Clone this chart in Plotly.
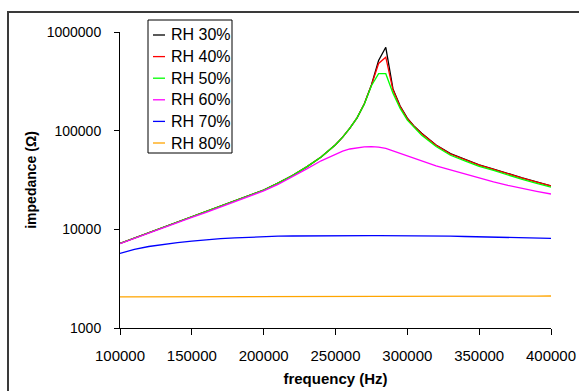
import plotly.graph_objects as go

# Frequency sweep (Hz)
freq = [100000, 110000, 120000, 130000, 140000, 150000, 160000, 170000, 180000, 190000,
        200000, 210000, 220000, 230000, 240000, 250000,
        255000, 260000, 265000, 270000, 275000, 280000, 285000, 290000, 295000, 300000,
        305000, 310000,
        320000, 330000, 340000, 350000, 360000, 370000, 380000, 390000, 400000]

# Impedance magnitude (ohm) at each relative humidity
rh30 = [7200, 8150, 9250, 10400, 11800, 13300, 15000, 17000, 19300, 22000,
        25000, 29500, 35000, 43000, 54000, 72000,
        86000, 106000, 135000, 186000, 290000, 515000, 700000, 265000, 178000, 134000,
        110000, 94000,
        71500, 58500, 51300, 45000, 40800, 36700, 33200, 30300, 27600]
rh40 = [7200, 8150, 9250, 10400, 11800, 13300, 15000, 17000, 19300, 22000,
        25000, 29500, 35000, 43000, 54000, 72000,
        86000, 106000, 135000, 186000, 288000, 480000, 555000, 258000, 175000, 132000,
        109000, 93000,
        71000, 58000, 51000, 44800, 40600, 36500, 33000, 30100, 27500]
rh50 = [7200, 8150, 9250, 10400, 11800, 13300, 15000, 17000, 19300, 22000,
        25000, 29500, 35000, 43000, 54000, 72000,
        86000, 106000, 135000, 185000, 285000, 378000, 378000, 240000, 168000, 128000,
        106000, 90000,
        69000, 56300, 49500, 43500, 39500, 35500, 32000, 29300, 26800]
rh60 = [7150, 8100, 9200, 10350, 11700, 13200, 14850, 16800, 19000, 21600,
        24500, 28500, 34000, 41000, 49500, 58000,
        62000, 65200, 67200, 68400, 68800, 68000, 66000, 62500, 59000, 55800,
        52600, 49500,
        44000, 40000, 36300, 33000, 30200, 27900, 25900, 24300, 22800]
rh70 = [5700, 6250, 6700, 7050, 7350, 7600, 7850, 8050, 8200, 8350,
        8450, 8520, 8560, 8600, 8620, 8640,
        8640, 8650, 8650, 8650, 8650, 8640, 8640, 8630, 8620, 8610,
        8600, 8590,
        8560, 8520, 8460, 8400, 8340, 8280, 8220, 8160, 8100]
rh80 = [2070, 2070, 2070, 2072, 2072, 2074, 2075, 2075, 2076, 2078,
        2078, 2080, 2080, 2082, 2083, 2085,
        2086, 2087, 2088, 2089, 2090, 2090, 2091, 2092, 2093, 2094,
        2095, 2096,
        2098, 2100, 2102, 2104, 2105, 2106, 2107, 2108, 2110]

names = ["RH 30%", "RH 40%", "RH 50%", "RH 60%", "RH 70%", "RH 80%"]
series = [rh30, rh40, rh50, rh60, rh70, rh80]
colors = ["#000000", "#FF0000", "#00FF00", "#FF00FF", "#0000FF", "#FFA500"]

y_ticks = [1000, 10000, 100000, 1000000]
x_ticks = [100000, 150000, 200000, 250000, 300000, 350000, 400000]

W, H = 579, 391
ML, MR, MT, MB = 120, 28, 32, 63
PW, PH = W - ML - MR, H - MT - MB


def px(x):
    return (x - ML) / PW


def py(y):
    return (H - MB - y) / PH


fig = go.Figure()
for name, vals, col in zip(names, series, colors):
    fig.add_trace(go.Scatter(x=freq, y=vals, name=name, mode="lines",
                             line=dict(color=col, width=1.3), showlegend=False))

font_family = "Liberation Sans, Arial, sans-serif"

fig.update_layout(
    width=W, height=H,
    margin=dict(l=ML, r=MR, t=MT, b=MB, autoexpand=False),
    paper_bgcolor="white", plot_bgcolor="white",
    font=dict(family=font_family, color="black"),
    xaxis=dict(
        range=[100000, 400000], tickvals=x_ticks, ticktext=[str(v) for v in x_ticks],
        showgrid=False, zeroline=False, showline=True, linecolor="black", linewidth=1,
        ticks="outside", ticklen=6, tickcolor="black", tickfont=dict(size=15),
        ticklabelstandoff=8, automargin=False,
        title=dict(text="<b>frequency (Hz)</b>", font=dict(size=15), standoff=10),
    ),
    yaxis=dict(
        type="log", range=[3, 6], tickvals=y_ticks, ticktext=[str(v) for v in y_ticks],
        showgrid=False, zeroline=False, showline=True, linecolor="black", linewidth=1,
        ticks="outside", ticklen=5, tickcolor="black", tickfont=dict(size=14),
        ticklabelstandoff=10, automargin=False,
        title=dict(text="<b>impedance (Ω)</b>", font=dict(size=14), standoff=6),
    ),
)

# Outer chart frame
fig.add_shape(type="rect", xref="paper", yref="paper",
              x0=px(8), y0=py(12), x1=px(W + 20), y1=py(H + 20),
              line=dict(color="#3a3a3a", width=2), layer="below")

# Legend box with short line samples
fig.add_shape(type="rect", xref="paper", yref="paper",
              x0=px(148), y0=py(20), x1=px(232), y1=py(153),
              line=dict(color="black", width=1), fillcolor="white")
for i, (name, col) in enumerate(zip(names, colors)):
    yc = 35 + i * 21.6
    fig.add_shape(type="line", xref="paper", yref="paper",
                  x0=px(153), x1=px(165), y0=py(yc), y1=py(yc),
                  line=dict(color=col, width=1.3))
    fig.add_annotation(xref="paper", yref="paper", x=px(169), y=py(yc),
                       text=name, showarrow=False, xanchor="left", yanchor="middle",
                       font=dict(size=16, family=font_family, color="black"))

fig.write_html("out.html")
